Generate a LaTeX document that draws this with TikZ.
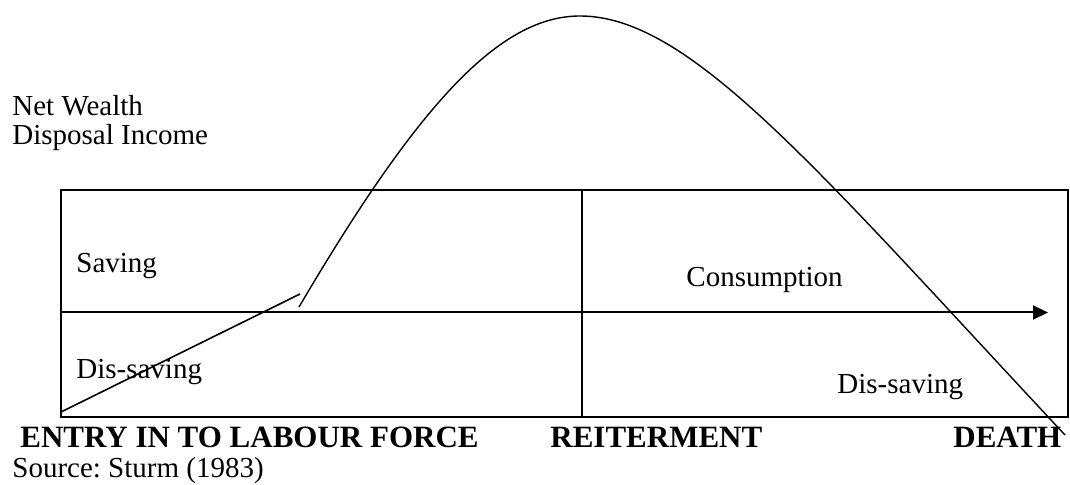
\documentclass[tikz,border=0pt]{standalone}
\usepackage{fontspec}
\setmainfont{Liberation Serif}
\usetikzlibrary{arrows.meta}
\frenchspacing

\begin{document}
\begin{tikzpicture}[x=0.5pt,y=-0.5pt,
  lbl/.style={anchor=base west,inner sep=0pt,font=\fontsize{14.5}{17}\selectfont},
  stage/.style={anchor=base west,inner sep=0pt,font=\fontsize{15.5}{18}\selectfont\bfseries},
  frame/.style={line width=1pt}]
\useasboundingbox (0,0) rectangle (1070,485);

\coordinate (TL) at (61,190);
\coordinate (BR) at (1068,417);
\coordinate (Mt) at (582,190);
\coordinate (Mb) at (582,417);
\coordinate (O) at (61,312.5);
\coordinate (E) at (1048,312.5);

\draw[frame] (TL) rectangle (BR);
\draw[frame] (Mt) -- (Mb);
\draw[frame,-{Triangle[length=7.5pt,width=7pt]}] (O) -- (E);

% early dis-saving line, then the wealth curve
\coordinate (S) at (61,412);
\coordinate (K) at (300,294);
\coordinate (C0) at (299,307);
\coordinate (Pk) at (580,16);
\coordinate (C1) at (1065,435);
\draw[line width=0.8pt] (S) -- (K);
\draw[line width=0.7pt] (C0) .. controls (419,103) and (500,16) .. (Pk)
  .. controls (690,16) and (815,167.5) .. (C1);

\node[lbl] (nw) at (12,116) {Net Wealth};
\node[lbl] (di) at (12,145) {Disposal Income};
\node[lbl] (sv) at (76,273) {Saving};
\node[lbl] (ds1) at (76,379) {Dis-saving};
\node[lbl] (cs) at (686,287) {Consumption};
\node[lbl] (ds2) at (837,394) {Dis-saving};

\node[stage] (entry) at (20,448) {ENTRY IN TO LABOUR FORCE};
\node[stage] (ret) at (550,448) {REITERMENT};
\node[stage] (death) at (953,448) {DEATH};

\node[lbl] (src) at (12,478) {Source: Sturm (1983)};
\end{tikzpicture}
\end{document}
